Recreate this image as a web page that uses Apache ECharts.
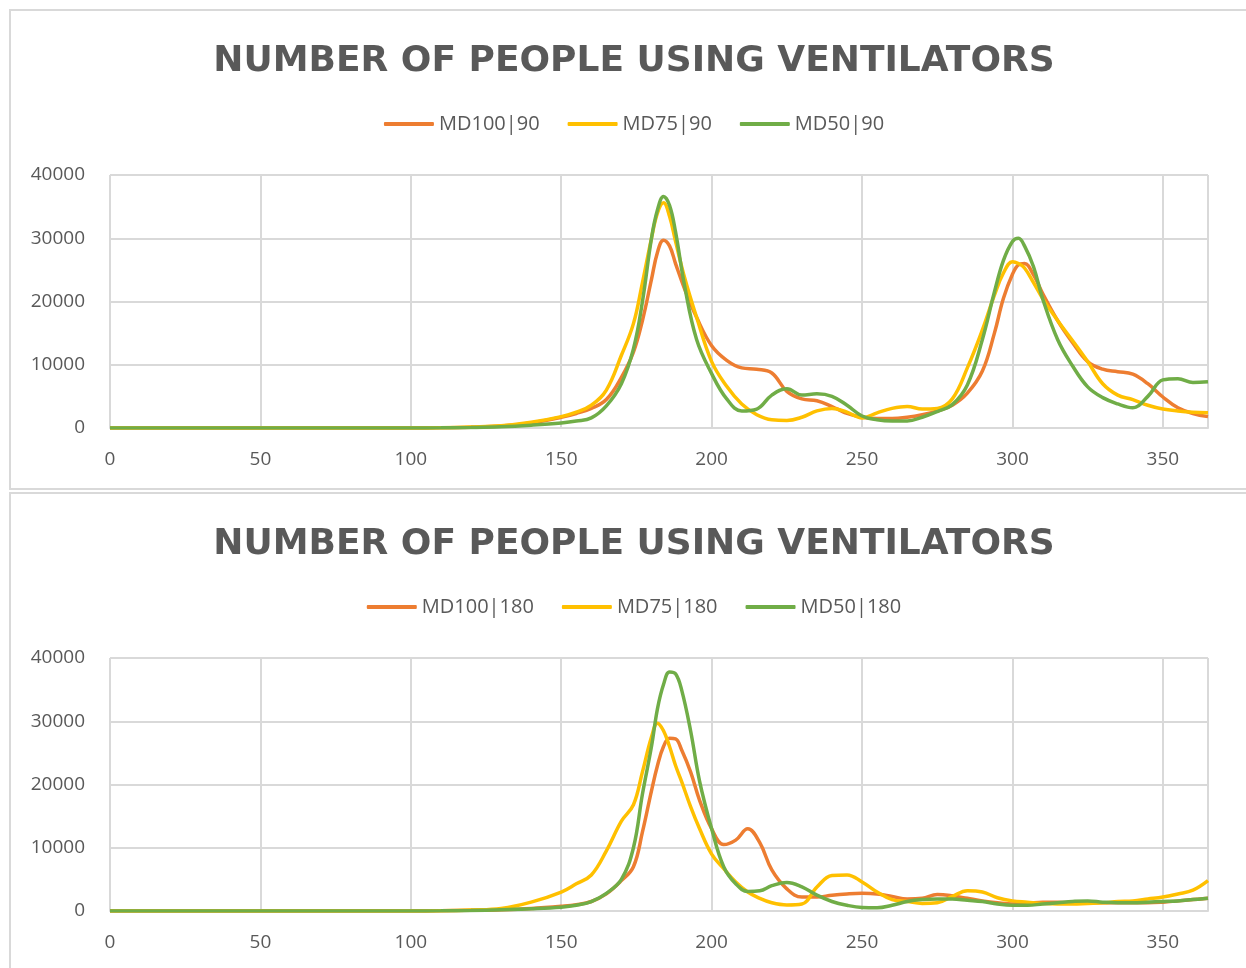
<!DOCTYPE html>
<html>
<head>
<meta charset="utf-8">
<script src="https://cdn.jsdelivr.net/npm/echarts@6/dist/echarts.min.js"></script>
<style>
  body { margin: 0; background: #fff; overflow: hidden; }
  .box {
    position: absolute;
    left: 9px;
    width: 1250px;
    border: 2px solid #d9d9d9;
    box-sizing: border-box;
  }
  #chart1 { top: 9px; height: 481px; }
  #chart2 { top: 492px; height: 490px; }
</style>
</head>
<body>
<div id="chart1" class="box"></div>
<div id="chart2" class="box"></div>
<script>
var titleText = "NUMBER OF PEOPLE USING VENTILATORS";

// top chart: 90 day runs
var days90 = [0, 25, 50, 75, 100, 110, 120, 130, 140, 150, 155, 160, 165, 170, 174, 177, 180, 182, 184, 186, 188, 191, 195, 200, 205, 210, 215, 220, 225, 230, 235, 240, 245, 250, 255, 260, 265, 270, 275, 280, 285, 290, 294, 297, 300, 302, 304, 307, 310, 315, 320, 325, 330, 335, 340, 345, 350, 355, 360, 365];
var names90 = ["MD100|90", "MD75|90", "MD50|90"];
var md100_90 = [0, 0, 0, 0, 0, 30, 120, 300, 800, 1700, 2300, 3100, 4500, 8000, 12000, 17000, 23500, 27800, 29700, 28800, 26000, 22000, 17500, 13000, 10700, 9500, 9300, 8700, 5800, 4600, 4300, 3400, 2300, 1700, 1500, 1500, 1700, 2100, 2700, 3600, 5500, 9000, 15000, 20500, 24300, 25800, 26000, 24200, 21300, 17000, 13500, 10500, 9300, 8900, 8500, 7000, 4900, 3200, 2300, 1800];
var md75_90 = [0, 0, 0, 0, 0, 30, 150, 350, 900, 1800, 2500, 3600, 6000, 11500, 16500, 23000, 30000, 34000, 35600, 33500, 29500, 23800, 17500, 10500, 6600, 3800, 2100, 1300, 1200, 1700, 2700, 3100, 2500, 1600, 2400, 3100, 3400, 3000, 3100, 4600, 9500, 15500, 21000, 24500, 26300, 26000, 25300, 23000, 20500, 17000, 13800, 10500, 7000, 5200, 4500, 3600, 3000, 2700, 2500, 2400];
var md50_90 = [0, 0, 0, 0, 0, 20, 80, 200, 450, 800, 1100, 1600, 3500, 7000, 12500, 20000, 30000, 34500, 36600, 35200, 31000, 22500, 14000, 8600, 4600, 2700, 3000, 5200, 6200, 5200, 5400, 5000, 3600, 1900, 1300, 1100, 1100, 1700, 2600, 3700, 6800, 14000, 21500, 26500, 29500, 30000, 28800, 25500, 20500, 14000, 9800, 6500, 4800, 3800, 3200, 5000, 7600, 7800, 7200, 7300];

// bottom chart: 180 day runs
var days180 = [0, 25, 50, 75, 100, 110, 120, 130, 140, 150, 155, 160, 165, 170, 174, 177, 180, 182, 184, 186, 188, 190, 193, 196, 200, 204, 208, 212, 216, 220, 225, 230, 235, 240, 245, 250, 255, 260, 265, 270, 275, 280, 285, 290, 295, 300, 305, 310, 315, 320, 325, 330, 335, 340, 345, 350, 355, 360, 365];
var names180 = ["MD100|180", "MD75|180", "MD50|180"];
var md100_180 = [0, 0, 0, 0, 0, 30, 100, 200, 400, 750, 1000, 1500, 2700, 4800, 7000, 12500, 19000, 23000, 26000, 27300, 27200, 25500, 22000, 17500, 13000, 10500, 11200, 13000, 10800, 6500, 3500, 2200, 2200, 2500, 2700, 2800, 2700, 2300, 1900, 2000, 2600, 2400, 2000, 1600, 1300, 1100, 1200, 1400, 1400, 1300, 1300, 1300, 1300, 1300, 1300, 1400, 1600, 1800, 2000];
var md75_180 = [0, 0, 0, 0, 0, 30, 150, 400, 1400, 3000, 4300, 5700, 9500, 14200, 16800, 22000, 27500, 29700, 28500, 26000, 23000, 20500, 16500, 13000, 9000, 6700, 4600, 3000, 2000, 1300, 950, 1100, 3800, 5600, 5700, 4600, 3000, 1800, 1500, 1200, 1300, 2300, 3200, 3000, 2100, 1600, 1400, 1200, 1100, 1100, 1200, 1300, 1500, 1600, 1900, 2200, 2700, 3300, 4800];
var md50_180 = [0, 0, 0, 0, 0, 20, 80, 200, 350, 600, 900, 1500, 2800, 5000, 10000, 18500, 26000, 32000, 35800, 37800, 37500, 35000, 28500, 20500, 13000, 7000, 4300, 3100, 3200, 4000, 4500, 3800, 2500, 1500, 900, 550, 500, 900, 1500, 1800, 1900, 1900, 1700, 1500, 1100, 900, 900, 1100, 1300, 1500, 1600, 1400, 1300, 1300, 1400, 1500, 1600, 1800, 2000];

var colors = ["#ED7D31", "#FFC000", "#70AD47"];
var textColor = "#595959";
var fontName = "Open Sans";

function pairs(days, vals) {
  return days.map(function (d, i) { return [d, vals[i]]; });
}

function makeOption(names, days, lists) {
  var series = [];
  for (var i = 0; i < names.length; i++) {
    series.push({
      name: names[i],
      type: "line",
      smooth: 0.4,
      symbol: "none",
      data: pairs(days, lists[i]),
      lineStyle: { width: 3.5, color: colors[i] },
      itemStyle: { color: colors[i] }
    });
  }
  return {
    animation: false,
    color: colors,
    textStyle: { fontFamily: fontName },
    title: {
      text: titleText,
      left: "center",
      top: 28,
      textStyle: {
        color: textColor,
        fontSize: 36,
        fontWeight: "bold",
        fontFamily: "DejaVu Sans"
      }
    },
    legend: {
      top: 98,
      left: "center",
      icon: "roundRect",
      itemWidth: 50,
      itemHeight: 4,
      itemGap: 28,
      textStyle: { color: textColor, fontSize: 20, fontFamily: fontName },
      data: names
    },
    grid: {
      left: 99,
      top: 164,
      width: 1098,
      height: 253
    },
    xAxis: {
      type: "value",
      min: 0,
      max: 365,
      interval: 50,
      axisLine: { show: true, lineStyle: { color: "#d9d9d9", width: 2 } },
      axisTick: { show: false },
      axisLabel: {
        color: textColor,
        fontSize: 19,
        fontFamily: fontName,
        margin: 22,
        showMaxLabel: false
      },
      splitLine: { show: true, lineStyle: { color: "#d9d9d9", width: 2 } }
    },
    yAxis: {
      type: "value",
      min: 0,
      max: 40000,
      interval: 10000,
      axisLine: { show: false },
      axisTick: { show: false },
      axisLabel: {
        color: textColor,
        fontSize: 19,
        fontFamily: fontName,
        margin: 25,
        formatter: function (v) { return String(v); }
      },
      splitLine: { lineStyle: { color: "#d9d9d9", width: 2 } }
    },
    series: series
  };
}

var chart1 = echarts.init(document.getElementById("chart1"));
chart1.setOption(makeOption(names90, days90, [md100_90, md75_90, md50_90]));

var chart2 = echarts.init(document.getElementById("chart2"));
chart2.setOption(makeOption(names180, days180, [md100_180, md75_180, md50_180]));
</script>
</body>
</html>
